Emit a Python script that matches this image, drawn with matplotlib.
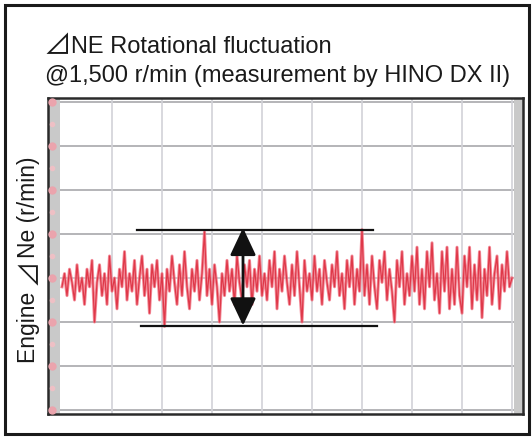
import numpy as np
import matplotlib
matplotlib.use("Agg")
import matplotlib.pyplot as plt
from matplotlib.patches import Rectangle, FancyArrowPatch

# ---- data (relative r/min units, grid step = 10) ----
tri = "\u22bf"
title_line1 = "NE Rotational fluctuation"
title_line2 = "@1,500 r/min (measurement by HINO DX II)"
ylabel_parts = ["Engine ", tri, "Ne (r/min)"]

signal = [
    -2, 1, -4, 2, -1, -5, 3, -3, 0, -6, 2, -2, 4, -10, -1, 3, -4, 1, -6, 5, -3,
    0, -7, 2, -2, 6, -5, 1, -3, 4, -6, 0, 5, -4, 2, -8, 3, -2, 4, -5, 1,
    -11, 2, -3, 5, -1, -6, 3, -4, 6, -2, -7, 2, -3, 4, -5, 1, 10.5, -4, 2, -6,
    3, -2, -10, 1, -4, 4, -3, 2, -6, 5, -1, -5, 3, -2, 4, -6, 2, -3, 5, -4,
    1, -5, 4, -2, 6, -7, 2, -3, 5, -1, -6, 3, -4, 6, -2, -10, 4, -3, 1, -5,
    5, -3, 2, -6, 4, -1, -5, 3, -2, 6, -4, 1, -7, 4, -2, 5, -6, 2, -3, 11,
    -4, 3, -6, 5, -2, -7, 4, -1, 6, -5, 2, -3, -10, 4, -2, 6, -6, 1, -4, 5,
    -3, 7, -6, 2, -7, 6, -2, 8, -5, 1, -8, 6, -3, 7, -7, 2, -6, 7, -4, -8,
    5, -2, 7, -7, 3, -5, 6, -9, 2, -4, 7, -6, 1, 5, -7, 3, -3, 6, -2, 0,
]
time_span = (0.0, 9.0)           # grid divisions
upper_ref = (1.50, 6.22, 10.9)   # x0, x1, y
lower_ref = (1.58, 6.30, -10.9)
arrow_x, arrow_top, arrow_bottom = 3.62, 11.4, -10.8
h_grid = [-30, -20, -10, 0, 10, 20, 30, 40]
v_grid = [1, 2, 3, 4, 5, 6, 7, 8, 9]
side_marks = [-30, -20, -10, 0, 10, 20, 30, 40]

W, H = 532, 437
fig = plt.figure(figsize=(W / 100, H / 100), dpi=100)
renderer = fig.canvas.get_renderer()

def fx(px):
    return px / W

def fy(py):
    return 1 - py / H

# outer frame
fig.patches.append(Rectangle((fx(5), fy(434)), fx(524), 429 / H, transform=fig.transFigure,
                             fill=False, edgecolor="#1a1a1a", lw=2.2))

ax = fig.add_axes([fx(48), fy(414), 475 / W, 316 / H])
ax.set_xlim(-0.28, 9.22)
ax.set_ylim(-30.9, 40.9)
ax.set_xticks([])
ax.set_yticks([])
for s in ax.spines.values():
    s.set_color("#2a2a2a")
    s.set_linewidth(1.8)

# grid
for y in h_grid:
    ax.axhline(y, color="#b4b4b8" if y != 0 else "#d0d0d4", lw=1.4, zorder=1)
for x in v_grid:
    ax.axvline(x, color="#d2d2d8", lw=1.2, zorder=1)

# side strips
ax.axvspan(-0.28, -0.04, color="#c9c9c9", zorder=2, lw=0)
ax.axvspan(9.04, 9.22, color="#c9c9c9", zorder=2, lw=0)
ax.plot([-0.2] * len(side_marks), side_marks, ls="none", marker="o", ms=5,
        color="#eba4ad", zorder=3)
ax.plot([-0.2] * len(side_marks), [v - 5 for v in side_marks], ls="none", marker="o",
        ms=3, color="#eec0c5", zorder=3)

# signal
xs = np.linspace(time_span[0], time_span[1], len(signal))
ax.plot(xs, signal, color="#f07080", lw=2.2, alpha=0.8, zorder=4)
ax.plot(xs, signal, color="#dd2f40", lw=0.9, alpha=0.9, zorder=4)

# reference lines
ax.plot(upper_ref[:2], [upper_ref[2]] * 2, color="#111111", lw=1.6, zorder=5)
ax.plot(lower_ref[:2], [lower_ref[2]] * 2, color="#111111", lw=1.6, zorder=5)

arr = FancyArrowPatch((arrow_x, arrow_bottom), (arrow_x, arrow_top),
                      arrowstyle="<|-|>,head_length=17,head_width=8",
                      mutation_scale=1, shrinkA=0, shrinkB=0,
                      color="#111111", lw=2, zorder=6)
ax.add_patch(arr)

# texts
fam = ["Liberation Sans", "DejaVu Sans"]
trifam = ["Noto Sans CJK JP", "DejaVu Sans"]
tri_t = fig.text(fx(43), fy(54), tri, fontsize=20, family=trifam, va="baseline", ha="left",
                 color="#1a1a1a")
tri_bb = tri_t.get_window_extent(renderer)
fig.text((tri_bb.x1 + 0.5) / W, fy(53), title_line1, fontsize=17, family=fam,
         va="baseline", ha="left", color="#1a1a1a")
fig.text(fx(45), fy(82), title_line2, fontsize=17, family=fam, va="baseline", ha="left",
         color="#1a1a1a")

# y label built from parts (rotated, bottom to top)
ylab_x = fx(35)        # baseline x (right side of rotated text)
cur = 363              # pixel y of text start (bottom)
sizes = [16.5, 19, 16.5]
fams = [fam, trifam, fam]
for part, sz, fm in zip(ylabel_parts, sizes, fams):
    t = fig.text(ylab_x + (0.004 if part == tri else 0), fy(cur), part, fontsize=sz,
                 family=fm, rotation=90, rotation_mode="anchor",
                 va="baseline", ha="left", color="#1a1a1a")
    bb = t.get_window_extent(renderer)
    cur -= bb.height + 0.5

fig.savefig("out.png", dpi=100)
